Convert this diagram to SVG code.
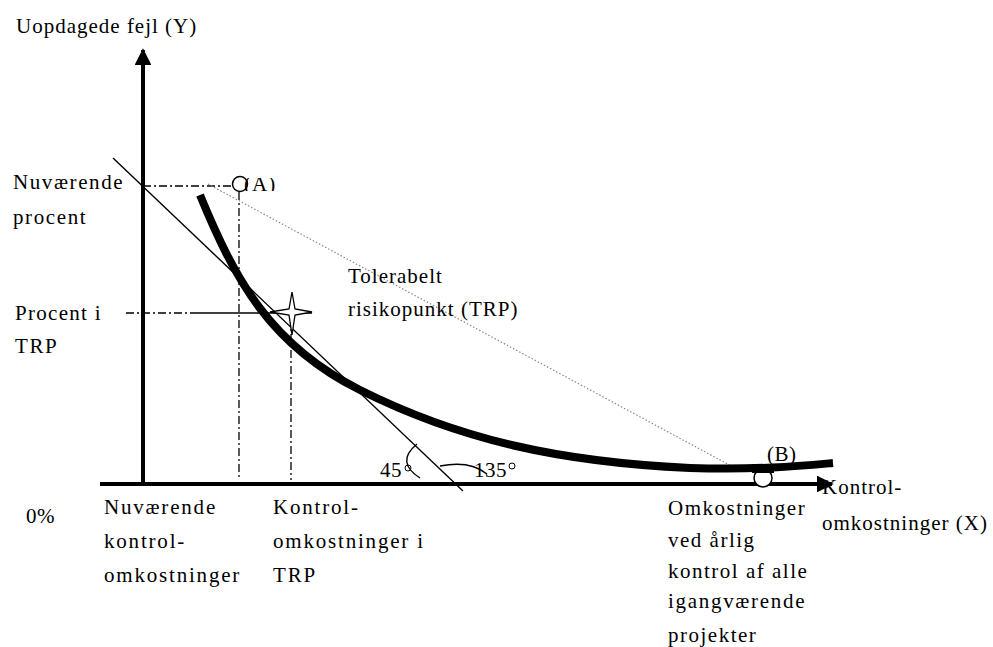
<svg xmlns="http://www.w3.org/2000/svg" width="993" height="647" viewBox="0 0 993 647">
<style>
text{font-family:"Liberation Serif","Times New Roman",serif;font-size:21px;fill:#000;letter-spacing:1.6px}
.t{letter-spacing:1px}
.w{letter-spacing:1px}
.dd{fill:none;stroke:#000;stroke-width:1.3;stroke-dasharray:8 3 2 3}
.thin{fill:none;stroke:#000;stroke-width:1.4}
</style>
<defs>
<marker id="ah" viewBox="0 0 10 10" refX="9" refY="5" markerWidth="4.2" markerHeight="4.2" orient="auto" markerUnits="strokeWidth"><path d="M0,0 L10,5 L0,10 z" fill="#000"/></marker>
<clipPath id="clipA"><rect x="238" y="178" width="50" height="13"/></clipPath>
</defs>
<rect width="993" height="647" fill="#fff"/>
<g id="connectors">
<line x1="143" y1="486" x2="143" y2="50" stroke="#000" stroke-width="4" marker-end="url(#ah)"/>
<line x1="100" y1="484" x2="832" y2="484" stroke="#000" stroke-width="4" marker-end="url(#ah)"/>
<path class="dd" d="M143,186 H234"/>
<path class="dd" d="M239,192 V480"/>
<path class="dd" d="M126,313 H193"/>
<path class="thin" d="M193,313 H312"/>
<path class="dd" d="M291,318 V480"/>
<path d="M208,184 L735,468" fill="none" stroke="#888" stroke-width="1.2" stroke-dasharray="1.5 2"/>
<path class="thin" d="M113,158 L463,491"/>
<path d="M200,195 C235,280 270,345 360,390 C460,440 560,462 690,468 C760,470 800,466 833,463" fill="none" stroke="#000" stroke-width="8"/>
<path class="thin" d="M417,444 Q395,462 420,478"/>
<path class="thin" d="M440,466 Q470,460 487,474"/>
</g>
<g id="pointA"><circle cx="240" cy="184" r="7.5" fill="none" stroke="#000" stroke-width="1.5"/><text x="244" y="191" clip-path="url(#clipA)" style="letter-spacing:1px">(A)</text></g>
<g id="pointB"><circle cx="763" cy="478" r="9" fill="#fff" stroke="#000" stroke-width="1.5"/><rect x="752" y="464" width="22" height="9" fill="#000"/><text x="767" y="461" style="letter-spacing:0.5px">(B)</text></g>
<g id="star"><path d="M292,292 L295,309 L312,312 L295,315 L292,335 L289,315 L270,312 L289,309 Z" fill="#fff" stroke="#000" stroke-width="1.3"/></g>
<g id="labels">
<text class="t" x="16" y="33">Uopdagede fejl (Y)</text>
<text x="13" y="189">Nuværende</text>
<text x="13" y="224">procent</text>
<text x="15" y="320" style="letter-spacing:1.3px">Procent i</text>
<text x="15" y="353">TRP</text>
<text class="w" x="348" y="283">Tolerabelt</text>
<text class="w" x="348" y="316">risikopunkt (TRP)</text>
<text x="380" y="477" style="letter-spacing:0.5px">45</text>
<circle cx="408" cy="468" r="3" fill="none" stroke="#000" stroke-width="1"/>
<text x="474" y="477" style="letter-spacing:0.5px">135</text>
<circle cx="512" cy="466" r="3" fill="none" stroke="#000" stroke-width="1"/>
<text x="26" y="523" style="letter-spacing:0.5px">0%</text>
<text x="104" y="514" style="letter-spacing:1.8px">Nuværende</text>
<text x="104" y="548" style="letter-spacing:1.8px">kontrol-</text>
<text x="104" y="582" style="letter-spacing:1.8px">omkostninger</text>
<text x="273" y="514" style="letter-spacing:1.8px">Kontrol-</text>
<text x="273" y="548" style="letter-spacing:1.8px">omkostninger i</text>
<text x="273" y="582" style="letter-spacing:1.8px">TRP</text>
<text x="822" y="494" class="w">Kontrol-</text>
<text x="822" y="530" class="w">omkostninger (X)</text>
<text x="668" y="515" style="letter-spacing:1.5px">Omkostninger</text>
<text x="668" y="547" style="letter-spacing:1.5px">ved årlig</text>
<text x="668" y="578" style="letter-spacing:1.5px">kontrol af alle</text>
<text x="668" y="608" style="letter-spacing:1.7px">igangværende</text>
<text x="668" y="642" style="letter-spacing:1.5px">projekter</text>
</g>
</svg>
